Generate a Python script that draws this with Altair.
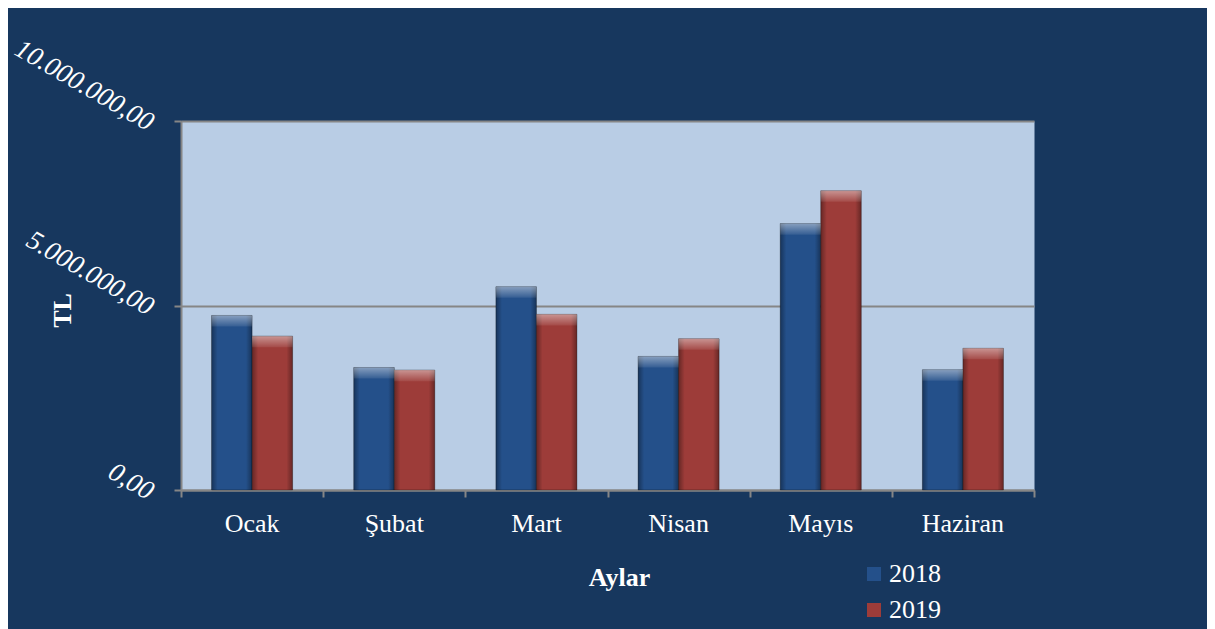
import altair as alt
import pandas as pd

months = ["Ocak", "Şubat", "Mart", "Nisan", "Mayıs", "Haziran"]
years = ["2018", "2019"]
values_2018 = [4730000, 3320000, 5510000, 3620000, 7220000, 3260000]
values_2019 = [4170000, 3250000, 4760000, 4100000, 8110000, 3840000]
y_tick_values = [0, 5000000, 10000000]
y_tick_labels = ["0,00", "5.000.000,00", "10.000.000,00"]
band_edges = list(range(len(months) + 1))

rows = []
for m, a, b in zip(months, values_2018, values_2019):
    rows.append({"month": m, "year": years[0], "value": a})
    rows.append({"month": m, "year": years[1], "value": b})
df = pd.DataFrame(rows)
edges_df = pd.DataFrame({"edge": band_edges})

BG = "#17375e"
PLOT_BG = "#b9cde5"
GRAY = "#868686"
BLUE = "#24508a"
RED = "#9d3c39"
FONT = "Liberation Serif"

expr = "'" + y_tick_labels[-1] + "'"
for v, l in zip(y_tick_values[:-1][::-1], y_tick_labels[:-1][::-1]):
    expr = f"datum.value == {v} ? '{l}' : " + expr

x_enc = alt.X(
    "month:N", sort=months,
    scale=alt.Scale(paddingInner=0.43, paddingOuter=0.215),
    axis=alt.Axis(orient="bottom", labelAngle=0, ticks=False, labelFont=FONT,
                  labelFontSize=26, labelColor="white", labelPadding=20,
                  domainColor=GRAY, domainWidth=2, grid=False,
                  title="Aylar", titleFont=FONT, titleFontSize=26,
                  titleFontWeight="bold", titleColor="white",
                  titleX=438, titleY=87, titleBaseline="middle", titleAlign="center"),
)
xoff_enc = alt.XOffset("year:N", sort=years, scale=alt.Scale(paddingInner=0, paddingOuter=0))
y_enc = alt.Y(
    "value:Q",
    scale=alt.Scale(domain=[0, 10000000], nice=False),
    axis=alt.Axis(values=y_tick_values, labelExpr=expr, labelAngle=30,
                  labelAlign="right", labelBaseline="middle", labelFont=FONT,
                  labelFontStyle="italic", labelFontSize=27, labelColor="white",
                  labelPadding=23, labelOffset=3, labelOverlap=False, labelFlush=False,
                  tickSize=7, tickColor=GRAY, tickWidth=2,
                  domainColor=GRAY, domainWidth=2,
                  grid=True, gridColor=GRAY, gridWidth=2,
                  title="TL", titleFont=FONT, titleFontSize=26, titleFontWeight="bold",
                  titleColor="white", titleX=-119, titleY=189, titleAngle=-90,
                  titleBaseline="middle", titleAlign="center"),
)

base = alt.Chart(df).mark_bar(stroke="rgba(0,0,0,0.3)", strokeWidth=1).encode(
    x=x_enc, xOffset=xoff_enc, y=y_enc,
    color=alt.Color("year:N", sort=years,
                    scale=alt.Scale(domain=years, range=[BLUE, RED]),
                    legend=alt.Legend(title=None, orient="none", legendX=680, legendY=440,
                                      direction="vertical", symbolType="square",
                                      symbolSize=196, symbolStrokeWidth=0,
                                      labelFont=FONT, labelFontSize=26, labelColor="white",
                                      rowPadding=10, labelOffset=2, padding=0)),
)

edge_grad = alt.LinearGradient(
    gradient="linear", x1=0, x2=1, y1=0, y2=0,
    stops=[alt.GradientStop(color="rgba(0,0,0,0.35)", offset=0),
           alt.GradientStop(color="rgba(0,0,0,0)", offset=0.15),
           alt.GradientStop(color="rgba(0,0,0,0)", offset=0.85),
           alt.GradientStop(color="rgba(0,0,0,0.35)", offset=1)],
)
edges = alt.Chart(df).mark_bar(fill=edge_grad).encode(x=x_enc, xOffset=xoff_enc, y=y_enc)

cap_grad = alt.LinearGradient(
    gradient="linear", x1=0, x2=0, y1=0, y2=1,
    stops=[alt.GradientStop(color="rgba(255,255,255,0.45)", offset=0),
           alt.GradientStop(color="rgba(255,255,255,0.08)", offset=1)],
)
cap = alt.Chart(df).transform_calculate(cap="datum.value - 300000").mark_bar(fill=cap_grad).encode(
    x=x_enc, xOffset=xoff_enc, y=y_enc, y2=alt.Y2("cap:Q"))

bars = alt.layer(base, edges, cap)

ticks = alt.Chart(edges_df).mark_point(opacity=0).encode(
    x=alt.X("edge:Q", scale=alt.Scale(domain=[0, len(months)], nice=False, zero=False),
            axis=alt.Axis(orient="bottom", values=band_edges, labels=False, domain=False,
                          grid=False, tickSize=7, tickColor=GRAY, tickWidth=2, title=None)))

chart = alt.layer(bars, ticks).resolve_scale(x="independent").properties(
    width=853, height=369,
    autosize=alt.AutoSizeParams(type="none"),
    padding={"left": 173, "top": 113, "right": 173, "bottom": 139},
    background=BG,
).configure_view(fill=PLOT_BG, stroke="transparent")

chart.save("out.html", embed_options={"renderer": "svg", "actions": False})
